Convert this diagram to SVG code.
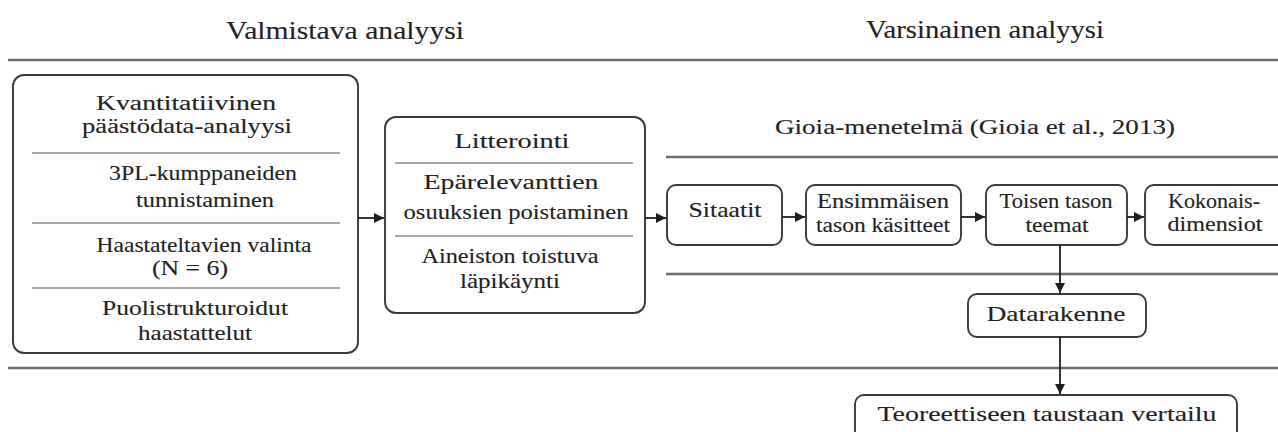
<svg xmlns="http://www.w3.org/2000/svg" width="1278" height="432" viewBox="0 0 1278 432">
  <defs>
    <marker id="arrow" viewBox="0 0 10 10" refX="10" refY="5" markerWidth="11" markerHeight="10" markerUnits="userSpaceOnUse" orient="auto">
      <path d="M0,0 L10,5 L0,10 z" fill="#1e1e1e"/>
    </marker>
    <style>
      text { font-family: "Liberation Serif", "Times New Roman", serif; fill: #222; stroke: #222; stroke-width: 0.12; text-anchor: middle; }
      .head { font-size: 25px; }
      .body { font-size: 22px; }
      .small { font-size: 21px; }
      .box { fill: #fff; stroke: #3a3a3a; stroke-width: 1.9; }
      .sep { stroke: #8a8a8a; stroke-width: 1.4; }
      .rule { stroke: #6e6e6e; stroke-width: 2.6; }
      .conn { stroke: #1e1e1e; stroke-width: 1.8; fill: none; marker-end: url(#arrow); }
    </style>
  </defs>

  <rect width="1278" height="432" fill="#fff"/>

  <!-- section headings and rules -->
  <g id="headings">
    <text class="head" x="345" y="39" textLength="238" lengthAdjust="spacingAndGlyphs">Valmistava analyysi</text>
    <text class="head" x="985" y="38" textLength="238" lengthAdjust="spacingAndGlyphs">Varsinainen analyysi</text>
    <line class="rule" x1="8" y1="60" x2="1278" y2="60"/>
    <line class="rule" x1="8" y1="368" x2="1278" y2="368"/>
  </g>

  <!-- Gioia method band -->
  <g id="gioia">
    <text class="body" x="975" y="134" font-size="23" textLength="400" lengthAdjust="spacingAndGlyphs">Gioia-menetelmä (Gioia et al., 2013)</text>
    <line class="rule" x1="666" y1="157" x2="1278" y2="157"/>
    <line class="rule" x1="666" y1="274" x2="1278" y2="274"/>
  </g>

  <!-- preparatory steps -->
  <g id="prep">
    <rect class="box" x="13" y="75" width="345" height="278" rx="11"/>
    <line class="sep" x1="32" y1="153" x2="340" y2="153"/>
    <line class="sep" x1="32" y1="223" x2="340" y2="223"/>
    <line class="sep" x1="32" y1="288" x2="340" y2="288"/>
    <text class="body" x="186" y="110" textLength="180" lengthAdjust="spacingAndGlyphs">Kvantitatiivinen</text>
    <text class="body" x="187" y="133" textLength="210" lengthAdjust="spacingAndGlyphs">päästödata-analyysi</text>
    <text class="body" x="203" y="180" textLength="188" lengthAdjust="spacingAndGlyphs">3PL-kumppaneiden</text>
    <text class="body" x="205" y="207" textLength="138" lengthAdjust="spacingAndGlyphs">tunnistaminen</text>
    <text class="body" x="204" y="252" textLength="215" lengthAdjust="spacingAndGlyphs">Haastateltavien valinta</text>
    <text class="body" x="190" y="275" textLength="76" lengthAdjust="spacingAndGlyphs">(N = 6)</text>
    <text class="body" x="195" y="315" textLength="186" lengthAdjust="spacingAndGlyphs">Puolistrukturoidut</text>
    <text class="body" x="195" y="340" textLength="114" lengthAdjust="spacingAndGlyphs">haastattelut</text>
  </g>

  <!-- transcription -->
  <g id="litterointi">
    <rect class="box" x="385" y="117" width="260" height="196" rx="11"/>
    <line class="sep" x1="395" y1="163" x2="633" y2="163"/>
    <line class="sep" x1="395" y1="236" x2="633" y2="236"/>
    <text class="body" x="512" y="148" font-size="23" textLength="115" lengthAdjust="spacingAndGlyphs">Litterointi</text>
    <text class="body" x="511" y="189" textLength="175" lengthAdjust="spacingAndGlyphs">Epärelevanttien</text>
    <text class="body" x="516" y="219" textLength="225" lengthAdjust="spacingAndGlyphs">osuuksien poistaminen</text>
    <text class="body" x="510" y="263" textLength="177" lengthAdjust="spacingAndGlyphs">Aineiston toistuva</text>
    <text class="body" x="510" y="288" textLength="100" lengthAdjust="spacingAndGlyphs">läpikäynti</text>
  </g>

  <g id="sitaatit">
    <rect class="box" x="667" y="185" width="115" height="60" rx="9"/>
    <text class="small" x="725" y="217" font-size="23" textLength="73" lengthAdjust="spacingAndGlyphs">Sitaatit</text>
  </g>

  <g id="ensimmaisen">
    <rect class="box" x="806" y="185" width="155" height="60" rx="9"/>
    <text class="small" x="883" y="208" textLength="132" lengthAdjust="spacingAndGlyphs">Ensimmäisen</text>
    <text class="small" x="883" y="232" textLength="134" lengthAdjust="spacingAndGlyphs">tason käsitteet</text>
  </g>

  <g id="toisen">
    <rect class="box" x="986" y="185" width="141" height="60" rx="9"/>
    <text class="small" x="1056" y="208" textLength="113" lengthAdjust="spacingAndGlyphs">Toisen tason</text>
    <text class="small" x="1057" y="232" textLength="63" lengthAdjust="spacingAndGlyphs">teemat</text>
  </g>

  <g id="kokonais">
    <rect class="box" x="1145" y="185" width="150" height="60" rx="9"/>
    <text class="small" x="1214" y="208" textLength="92" lengthAdjust="spacingAndGlyphs">Kokonais-</text>
    <text class="small" x="1215" y="231" textLength="95" lengthAdjust="spacingAndGlyphs">dimensiot</text>
  </g>

  <g id="datarakenne">
    <rect class="box" x="968" y="294" width="178" height="43" rx="9"/>
    <text class="body" x="1056" y="321" textLength="139" lengthAdjust="spacingAndGlyphs">Datarakenne</text>
  </g>

  <g id="vertailu">
    <rect class="box" x="855" y="395" width="382" height="50" rx="9"/>
    <text class="body" x="1047" y="421" textLength="339" lengthAdjust="spacingAndGlyphs">Teoreettiseen taustaan vertailu</text>
  </g>

  <!-- connectors -->
  <g id="connectors">
    <line class="conn" x1="358" y1="218" x2="384" y2="218"/>
    <line class="conn" x1="645" y1="218" x2="666" y2="218"/>
    <line class="conn" x1="782" y1="217" x2="805" y2="217"/>
    <line class="conn" x1="961" y1="217" x2="985" y2="217"/>
    <line class="conn" x1="1127" y1="217" x2="1144" y2="217"/>
    <line class="conn" x1="1060" y1="245" x2="1060" y2="293"/>
    <line class="conn" x1="1060" y1="337" x2="1060" y2="394"/>
  </g>
</svg>
